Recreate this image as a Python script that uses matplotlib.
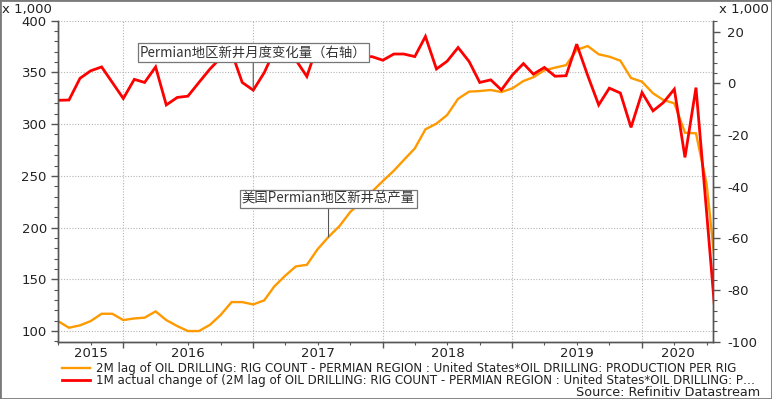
import matplotlib
matplotlib.use("Agg")
import matplotlib.pyplot as plt
import matplotlib.dates as mdates
import matplotlib.transforms as mtransforms
from matplotlib.ticker import MultipleLocator, NullFormatter
from matplotlib.lines import Line2D
from matplotlib.patches import Rectangle
import pandas as pd

# monthly points, Jul 2015 .. Aug 2020 (last one runs off the right edge)
months = pd.date_range("2015-07-01", periods=62, freq="MS")
x_end = pd.Timestamp("2020-07-19")

# new-well production, Permian (x 1,000), left axis
new_well_output = [
    109.6, 103.2, 105.5, 109.6, 116.7, 116.7, 110.6, 112.2, 112.9, 119.0,
    110.6, 104.8, 100.0, 100.0, 106.0, 115.5, 128.0, 128.0, 125.7, 129.7,
    143.0, 153.5, 162.5, 164.0, 179.0, 191.0, 201.5, 215.0, 225.0, 234.6,
    245.0, 255.0, 265.3, 276.5, 295.0, 300.5, 308.8, 324.5, 331.4, 332.0,
    333.0, 331.0, 334.6, 341.7, 345.3, 352.0, 354.6, 357.0, 371.7, 375.5,
    367.5, 365.2, 361.3, 344.6, 341.0, 329.8, 323.3, 320.1, 291.7, 291.1,
    242.0, 141.0,
]

# month-on-month change (x 1,000), right axis
monthly_change = [
    -6.6, -6.5, 1.9, 4.8, 6.3, 0.3, -5.9, 1.5, 0.3, 6.3,
    -8.4, -5.5, -5.0, 0.3, 5.5, 9.8, 12.0, 0.3, -2.7, 4.1,
    12.5, 11.0, 9.0, 2.6, 14.8, 12.0, 10.5, 13.0, 10.0, 10.3,
    8.9, 11.3, 11.3, 10.3, 18.1, 5.5, 8.5, 13.8, 8.4, 0.3,
    1.3, -2.6, 3.2, 7.6, 3.5, 6.1, 2.7, 2.9, 15.1, 3.0,
    -8.4, -1.9, -3.8, -17.1, -3.6, -10.7, -7.5, -2.3, -28.7, -1.7,
    -50.0, -101.0,
]

years = [2015, 2016, 2017, 2018, 2019, 2020]
legend_labels = [
    "2M lag of OIL DRILLING: RIG COUNT - PERMIAN REGION : United States*OIL DRILLING: PRODUCTION PER RIG",
    "1M actual change of (2M lag of OIL DRILLING: RIG COUNT - PERMIAN REGION : United States*OIL DRILLING: P\u2026",
]
note_change = "Permian地区新井月度变化量（右轴）"
note_output = "美国Permian地区新井总产量"

orange = "#FF9900"
red = "#FF0000"
axis_grey = "#555555"
tick_size = 9.5

plt.rcParams["font.family"] = ["DejaVu Sans"]
plt.rcParams["axes.unicode_minus"] = False

fig = plt.figure(figsize=(7.72, 3.99), dpi=100)
ax = fig.add_axes([0.0751, 0.1436, 0.8485, 0.8046])
ax2 = ax.twinx()

ax.plot(months, new_well_output, color=orange, lw=1.7, solid_joinstyle="miter")
ax2.plot(months, monthly_change, color=red, lw=2.0, solid_joinstyle="miter")

ax.set_xlim(months[0], x_end)
ax.set_ylim(89.7, 400)
ax2.set_ylim(-100, 24.2)

ax.xaxis.set_major_locator(mdates.YearLocator())
ax.xaxis.set_minor_locator(mdates.MonthLocator(bymonth=[1, 4, 7, 10]))
ax.xaxis.set_major_formatter(NullFormatter())
ax.xaxis.set_minor_formatter(NullFormatter())
ax.yaxis.set_major_locator(MultipleLocator(50))
ax.yaxis.set_minor_locator(MultipleLocator(10))
ax2.yaxis.set_major_locator(MultipleLocator(20))
ax2.yaxis.set_minor_locator(MultipleLocator(4))

ax.grid(True, which="major", linestyle=(0, (1, 1.5)), color="#b5b5b5", lw=0.8)

for a in (ax, ax2):
    a.spines["top"].set_visible(False)
    for s in ("left", "right", "bottom"):
        a.spines[s].set_color(axis_grey)
        a.spines[s].set_linewidth(1.0)
    a.tick_params(which="major", length=5, width=1, color=axis_grey,
                  labelsize=tick_size, labelcolor="#222222")
    a.tick_params(which="minor", length=3, width=0.8, color=axis_grey)
ax.tick_params(axis="y", pad=3)
ax2.tick_params(axis="y", pad=5)
ax.tick_params(axis="x", which="major", length=4)
ax.tick_params(axis="x", which="minor", length=2)

# year labels centred on the visible part of each year
trans = mtransforms.blended_transform_factory(ax.transData, ax.transAxes)
for y in years:
    lo = max(pd.Timestamp(y, 1, 1), months[0])
    hi = min(pd.Timestamp(y + 1, 1, 1), x_end)
    mid = lo + (hi - lo) / 2
    ax.text(mdates.date2num(mid), -0.036, str(y), transform=trans,
            ha="center", va="center", fontsize=tick_size, color="#222222")

fig.text(0.003, 0.977, "x 1,000", ha="left", va="center", fontsize=tick_size, color="#222222")
fig.text(0.996, 0.977, "x 1,000", ha="right", va="center", fontsize=tick_size, color="#222222")

box = dict(boxstyle="square,pad=0.18", fc="white", ec="#777777", lw=0.9)
note_trans = mtransforms.blended_transform_factory(ax2.transData, ax2.transAxes)
ax2.annotate(note_change, xy=(months[18], monthly_change[18]),
             xytext=(mdates.date2num(months[18]), 0.901), textcoords=note_trans,
             ha="center", va="center", fontsize=9.6, color="#333333",
             family=["Noto Sans CJK SC", "DejaVu Sans"], bbox=box,
             arrowprops=dict(arrowstyle="-", color="#555555", lw=0.8, shrinkA=0, shrinkB=0),
             zorder=5)
ax2.annotate(note_output, xy=(mdates.date2num(months[25]), new_well_output[25]),
             xycoords=ax.transData,
             xytext=(mdates.date2num(months[25]), 0.4445), textcoords=note_trans,
             ha="center", va="center", fontsize=9.6, color="#333333",
             family=["Noto Sans CJK SC", "DejaVu Sans"], bbox=box,
             arrowprops=dict(arrowstyle="-", color="#555555", lw=0.8, shrinkA=0, shrinkB=0),
             zorder=5)

handles = [Line2D([], [], color=orange, lw=1.7), Line2D([], [], color=red, lw=2.0)]
fig.legend(handles, legend_labels, loc="upper left", bbox_to_anchor=(0.080, 0.092),
           frameon=False, fontsize=8.6, handlelength=2.4, handletextpad=0.5,
           borderpad=0, borderaxespad=0, labelspacing=-0.12, labelcolor="#222222")

fig.text(0.985, 0.016, "Source: Refinitiv Datastream", ha="right", va="center",
         fontsize=9.2, color="#222222")

fig.patches.append(Rectangle((0, 0), 1, 1, transform=fig.transFigure, fill=False,
                             edgecolor="#7a7a7a", lw=2))

fig.savefig("out.png", dpi=100)
